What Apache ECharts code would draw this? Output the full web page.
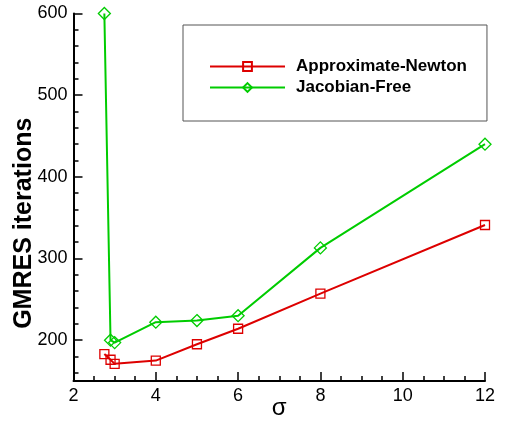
<!DOCTYPE html>
<html>
<head>
<meta charset="utf-8">
<script src="https://cdn.jsdelivr.net/npm/echarts@6/dist/echarts.min.js"></script>
<style>html,body{margin:0;padding:0;background:#fff}#c{width:506px;height:423px}</style>
</head>
<body>
<div id="c"></div>
<script>
var sigmaAN = [2.75, 2.9, 3.0, 4, 5, 6, 8, 12];
var itersAN = [183, 176, 171, 175, 195, 214, 257, 341];
var sigmaJF = [2.75, 2.9, 3.0, 4, 5, 6, 8, 12];
var itersJF = [600, 200, 197, 222, 224, 230, 313, 440];
var yMajorTicks = [200, 300, 400, 500, 600];
var yMinorTicks = [160, 180, 220, 240, 260, 280, 320, 340, 360, 380, 420, 440, 460, 480, 520, 540, 560, 580];
var xTicks = [2, 4, 6, 8, 10, 12];

var FONT = '"Liberation Sans", Arial, Helvetica, sans-serif';
function pairs(xs, ys) { return xs.map(function (x, i) { return [x, ys[i]]; }); }

var chart = echarts.init(document.getElementById('c'), null, { renderer: 'canvas' });
chart.setOption({
  animation: false,
  backgroundColor: '#fff',
  grid: { left: 73.5, right: 21, top: 13.5, bottom: 42, containLabel: false, outerBoundsMode: 'none' },
  legend: {
    orient: 'vertical',
    left: 183, top: 25,
    padding: [31, 20, 23, 26],
    itemWidth: 75, itemHeight: 11, itemGap: 0,
    borderColor: '#555', borderWidth: 1,
    textStyle: { fontFamily: FONT, fontWeight: 'bold', fontSize: 17, lineHeight: 21, color: '#000', padding: [0, 0, 0, 6] },
    data: ['Approximate-Newton', 'Jacobian-Free']
  },
  xAxis: {
    type: 'value', min: xTicks[0], max: xTicks[xTicks.length - 1], interval: 2,
    name: 'σ', nameLocation: 'middle', nameGap: 15, nameMoveOverlap: false,
    nameTextStyle: { fontFamily: FONT, fontSize: 24, color: '#000' },
    axisLine: { show: true, lineStyle: { color: '#000', width: 2 } },
    axisTick: { show: true, inside: true, length: 9, lineStyle: { color: '#000', width: 1.5 } },
    minorTick: { show: true, splitNumber: 4, length: 5, lineStyle: { color: '#000', width: 1.5 } },
    axisLabel: { fontFamily: FONT, fontSize: 18, color: '#000', margin: 6 },
    splitLine: { show: false }, minorSplitLine: { show: false }
  },
  yAxis: [{
    type: 'value', min: 150, max: 600, position: 'left',
    name: 'GMRES iterations', nameLocation: 'middle', nameGap: 37, nameRotate: 90, nameMoveOverlap: false,
    nameTextStyle: { fontFamily: FONT, fontWeight: 'bold', fontSize: 25, color: '#000', padding: [0, 52, 0, 0] },
    axisLine: { show: true, lineStyle: { color: '#000', width: 2 } },
    axisTick: { show: true, inside: true, length: 9, customValues: yMajorTicks, lineStyle: { color: '#000', width: 1.5 } },
    axisLabel: { fontFamily: FONT, fontSize: 18, color: '#000', margin: 6, customValues: yMajorTicks },
    splitLine: { show: false }
  }, {
    type: 'value', min: 150, max: 600, position: 'left', offset: 0,
    axisLine: { show: false },
    axisTick: { show: true, inside: true, length: 5, customValues: yMinorTicks, lineStyle: { color: '#000', width: 1.5 } },
    axisLabel: { show: false },
    splitLine: { show: false }
  }],
  series: [{
    name: 'Approximate-Newton', type: 'line', yAxisIndex: 0,
    data: pairs(sigmaAN, itersAN),
    symbol: 'rect', symbolSize: 9,
    lineStyle: { color: '#dd0000', width: 2 },
    itemStyle: { color: 'rgba(255,255,255,0)', borderColor: '#dd0000', borderWidth: 1.3 },
    z: 3
  }, {
    name: 'Jacobian-Free', type: 'line', yAxisIndex: 0,
    data: pairs(sigmaJF, itersJF),
    symbol: 'diamond', symbolSize: 12,
    lineStyle: { color: '#00cc00', width: 2 },
    itemStyle: { color: 'rgba(255,255,255,0)', borderColor: '#00cc00', borderWidth: 1.3 },
    z: 3
  }]
});
</script>
</body>
</html>
